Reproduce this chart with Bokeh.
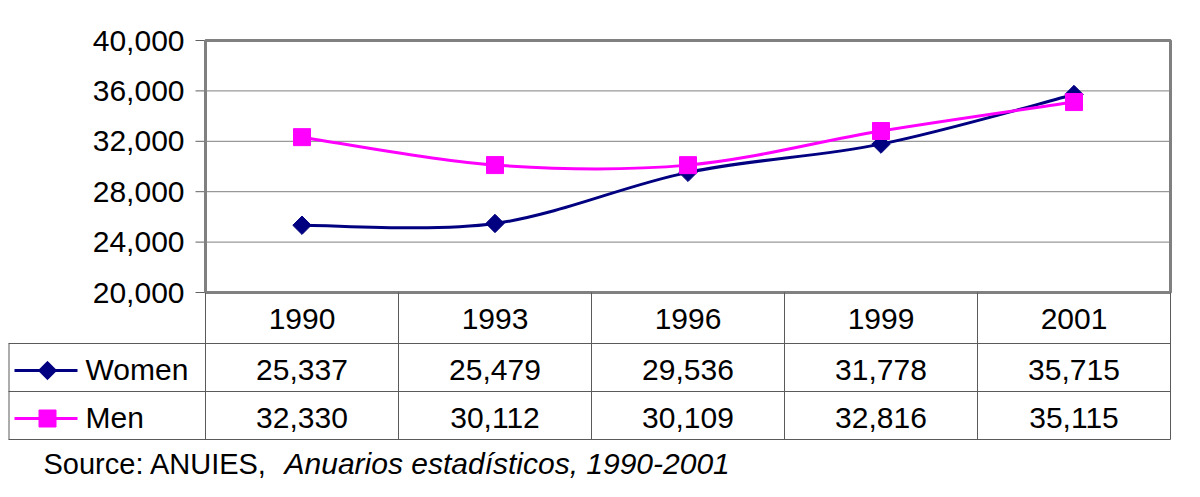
import numpy as np
from bokeh.plotting import figure
from bokeh.models import Range1d
from bokeh.core.properties import value
from bokeh.embed import file_html
from bokeh.resources import INLINE

# ---------------- data ----------------
years = ["1990", "1993", "1996", "1999", "2001"]
women = [25337, 25479, 29536, 31778, 35715]
men = [32330, 30112, 30109, 32816, 35115]
women_labels = ["25,337", "25,479", "29,536", "31,778", "35,715"]
men_labels = ["32,330", "30,112", "30,109", "32,816", "35,115"]
y_ticks = [20000, 24000, 28000, 32000, 36000, 40000]
y_tick_labels = ["20,000", "24,000", "28,000", "32,000", "36,000", "40,000"]
series_names = ["Women", "Men"]
source_plain = "Source: ANUIES,"
source_italic = "Anuarios estadísticos, 1990-2001"

NAVY = "#000080"
MAGENTA = "#FF00FF"
FONT = "Liberation Sans"
FS = "30px"
GRID = "#808080"
LINE = "#5a5a5a"

# ---------------- geometry (page pixels) ----------------
ORG = 0                   # page position of the figure's top-left corner
W, H = 1195, 495          # figure size
LEFT, COLW = 205, 193     # plot-area left edge and category width (page px)
TOP, BOTTOM = 40, 292     # plot-area top and bottom (page px)
PER_PX = (y_ticks[-1] - y_ticks[0]) / (BOTTOM - TOP)


def X(px):   # page px -> category units
    return (px - LEFT) / COLW


def Y(py):   # page px -> layout units (px from top of figure)
    return py - ORG


val_range = Range1d(start=y_ticks[0] - (ORG + H - BOTTOM) * PER_PX,
                    end=y_ticks[-1] + (TOP - ORG) * PER_PX)

p = figure(width=W, height=H, x_range=Range1d(X(ORG), X(ORG + W)), y_range=Range1d(H, 0),
           output_backend="svg", toolbar_location=None,
           min_border=0, min_border_left=0, min_border_right=0,
           min_border_top=0, min_border_bottom=0)
p.extra_y_ranges = {"val": val_range}
p.axis.visible = False
p.grid.visible = False
p.outline_line_color = None
p.background_fill_color = "white"
p.border_fill_color = "white"

xs = np.arange(len(years)) + 0.5
ncat = len(years)

# ---------- value axis (drawn) ----------
inner = y_ticks[1:-1]
p.segment(x0=[0] * len(inner), y0=inner, x1=[ncat] * len(inner), y1=inner,
          line_color=GRID, line_width=1, y_range_name="val")
p.segment(x0=[X(195)] * len(y_ticks), y0=y_ticks, x1=[X(LEFT)] * len(y_ticks), y1=y_ticks,
          line_color="#606060", line_width=1, y_range_name="val")
p.text(x=[X(184)] * len(y_ticks), y=y_ticks, text=y_tick_labels, y_range_name="val",
       text_font=value(FONT), text_font_size=value(FS), text_color="black",
       text_align="right", text_baseline="middle")
p.quad(left=[0], right=[ncat], bottom=[y_ticks[0]], top=[y_ticks[-1]],
       fill_color=None, line_color=GRID, line_width=3, y_range_name="val")


def smooth(x, y):
    """Catmull-Rom style bezier segments (Excel 'smoothed line')."""
    x = np.asarray(x, float)
    y = np.asarray(y, float)
    xp = np.concatenate([[x[0]], x, [x[-1]]])
    yp = np.concatenate([[y[0]], y, [y[-1]]])
    n = len(x) - 1
    x0, y0, x1, y1 = x[:-1], y[:-1], x[1:], y[1:]
    cx0 = x0 + (xp[2:n + 2] - xp[0:n]) / 6
    cy0 = y0 + (yp[2:n + 2] - yp[0:n]) / 6
    cx1 = x1 - (xp[3:n + 3] - xp[1:n + 1]) / 6
    cy1 = y1 - (yp[3:n + 3] - yp[1:n + 1]) / 6
    return dict(x0=x0, y0=y0, x1=x1, y1=y1, cx0=cx0, cy0=cy0, cx1=cx1, cy1=cy1)


styles = [(NAVY, 13, np.pi / 4), (MAGENTA, 17, 0)]
for vals, (color, size, angle) in zip([women, men], styles):
    p.bezier(line_color=color, line_width=3, y_range_name="val", **smooth(xs, vals))
    p.scatter(xs, vals, marker="square", size=size, angle=angle,
              fill_color=color, line_color=color, y_range_name="val")

# ---------------- data table ----------------
vx = [X(LEFT + COLW * i) for i in range(ncat + 1)]
p.segment(x0=vx, y0=[Y(BOTTOM)] * len(vx), x1=vx, y1=[Y(439)] * len(vx),
          line_color=LINE, line_width=1)
p.segment(x0=[X(8.5)], y0=[Y(343)], x1=[X(8.5)], y1=[Y(439)], line_color=LINE, line_width=1)
hy = [Y(343), Y(391), Y(439)]
p.segment(x0=[X(8)] * 3, y0=hy, x1=[vx[-1]] * 3, y1=hy, line_color=LINE, line_width=1)

tk = dict(text_font=value(FONT), text_font_size=value(FS), text_color="black",
          text_align="center", text_baseline="middle")
p.text(x=xs, y=[Y(318)] * ncat, text=years, **tk)
p.text(x=xs, y=[Y(369)] * ncat, text=women_labels, **tk)
p.text(x=xs, y=[Y(417)] * ncat, text=men_labels, **tk)

# legend keys
for py, (color, size, angle), name in zip([370, 418], styles, series_names):
    p.segment(x0=[X(14)], y0=[Y(py)], x1=[X(77)], y1=[Y(py)], line_color=color, line_width=3)
    p.scatter([X(47)], [Y(py)], marker="square", size=size, angle=angle,
              fill_color=color, line_color=color)
    p.text(x=[X(85)], y=[Y(py - 1)], text=[name], text_font=value(FONT),
           text_font_size=value(FS), text_color="black", text_align="left",
           text_baseline="middle")

# source note
sk = dict(text_font=value(FONT), text_color="black", text_align="left",
          text_baseline="middle")
p.text(x=[X(43)], y=[Y(463)], text=[source_plain], text_font_size=value("29px"), **sk)
p.text(x=[X(284)], y=[Y(463)], text=[source_italic], text_font_style="italic",
       text_font_size=value("30px"), **sk)

open("out.html", "w").write(file_html(p, INLINE))
